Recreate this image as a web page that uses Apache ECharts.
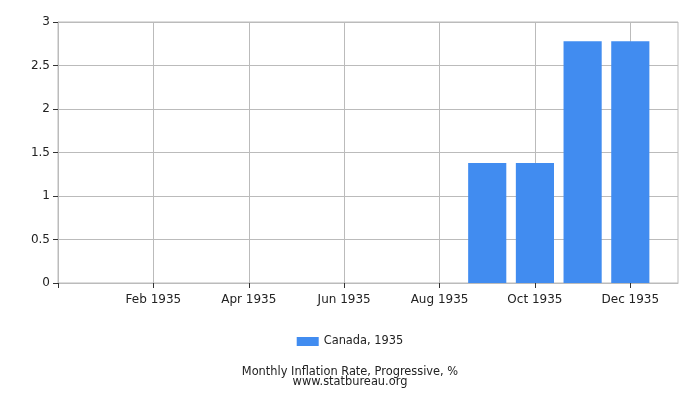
<!DOCTYPE html>
<html><head><meta charset="utf-8">
<script src="https://cdn.jsdelivr.net/npm/echarts@6/dist/echarts.min.js"></script>
<style>html,body{margin:0;padding:0;background:#fff}#c{width:700px;height:400px}</style>
</head><body><div id="c"></div>
<script>
const months = ['', 'Jan 1935', 'Feb 1935', 'Mar 1935', 'Apr 1935', 'May 1935', 'Jun 1935', 'Jul 1935', 'Aug 1935', 'Sep 1935', 'Oct 1935', 'Nov 1935', 'Dec 1935', ''];
const canada1935 = [null, 0, 0, 0, 0, 0, 0, 0, 0, 1.38, 1.38, 2.78, 2.78, null];
const yTicks = [0, 0.5, 1, 1.5, 2, 2.5, 3];
const seriesName = 'Canada, 1935';
const titleLines = ['Monthly Inflation Rate, Progressive, %', 'www.statbureau.org'];

const font = 'DejaVu Sans';
const shown = i => i % 2 === 0 && i > 0 && i < months.length - 1;
const chart = echarts.init(document.getElementById('c'), null, {renderer: 'canvas'});
chart.setOption({
  animation: false,
  textStyle: {fontFamily: font},
  title: [
    {text: titleLines[0], left: 'center', top: 362, textStyle: {fontFamily: font, fontSize: 11.4, fontWeight: 'normal', color: '#222'}},
    {text: titleLines[1], left: 'center', top: 372, textStyle: {fontFamily: font, fontSize: 11.4, fontWeight: 'normal', color: '#222'}}
  ],
  legend: {
    data: [seriesName], top: 331, left: 'center',
    itemWidth: 22, itemHeight: 9, itemGap: 5,
    icon: 'rect',
    textStyle: {fontFamily: font, fontSize: 11.4, color: '#222'}
  },
  grid: {left: 58, right: 22, top: 22, bottom: 117, show: true, borderColor: '#bbb', borderWidth: 1},
  xAxis: {
    type: 'category', data: months, boundaryGap: false,
    axisLine: {lineStyle: {color: '#bbb'}},
    axisTick: {show: true, length: 5, interval: i => i % 2 === 0 && i < months.length - 1, lineStyle: {color: '#333'}},
    axisLabel: {interval: shown, fontFamily: font, fontSize: 12, color: '#222', margin: 11},
    splitLine: {show: true, interval: shown, lineStyle: {color: '#bbb'}}
  },
  yAxis: {
    type: 'value', min: yTicks[0], max: yTicks[yTicks.length - 1], interval: 0.5,
    axisLine: {show: true, lineStyle: {color: '#bbb'}},
    axisTick: {show: true, length: 5, lineStyle: {color: '#333'}},
    axisLabel: {fontFamily: font, fontSize: 12, color: '#222', margin: 8},
    splitLine: {lineStyle: {color: '#bbb'}}
  },
  series: [{
    name: seriesName, type: 'bar', data: canada1935, barWidth: '80%',
    itemStyle: {color: '#418CF0'}
  }]
});
</script></body></html>
